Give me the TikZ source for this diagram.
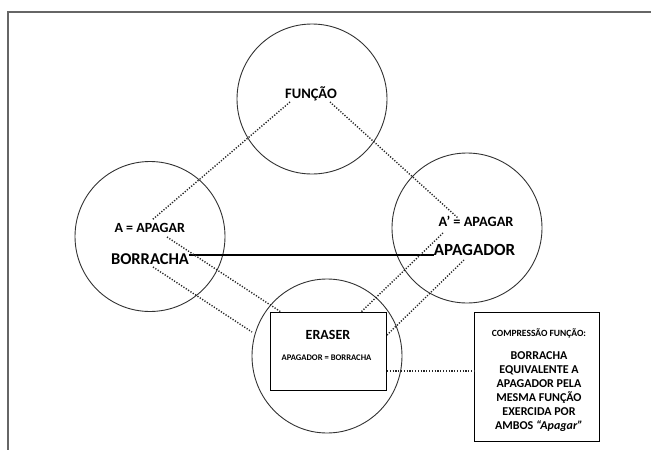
\documentclass[tikz,border=0pt]{standalone}
\usepackage{fontspec}
\setmainfont{Carlito}
\usetikzlibrary{shapes.geometric}
\begin{document}
\begin{tikzpicture}[x=1pt,y=-1pt,
  ring/.style={draw=black!80, line width=0.9pt, ellipse, inner sep=0pt, minimum width=150pt, minimum height=150pt},
  lbl/.style={font=\bfseries, text=black, inner sep=0pt, anchor=base},
  dots/.style={draw=black!85, line width=1.4pt, dash pattern=on 1.2pt off 1.6pt},
  boxx/.style={draw=black, line width=1pt, inner sep=0pt},
  link/.style={draw=black, line width=2pt}]
\useasboundingbox (0,0) rectangle (651,450);
% frame
\draw[draw=black!60, line width=1.5pt] (8,450) -- (8,12) -- (651,12);
% circles
\node[ring] (cF) at (312,99) {};
\node[ring] (cB) at (150,236.5) {};
\node[ring] (cA) at (467,228) {};
\node[ring, minimum height=154pt] (cE) at (327,356) {};
% boxes
\node[boxx, minimum width=116pt, minimum height=77.7pt] (bE) at (328.7,351.2) {};
\node[boxx, minimum width=125.3pt, minimum height=129.4pt] (bC) at (536.7,377) {};
% labels
\node[lbl, font=\bfseries\fontsize{14.5}{17}\selectfont] (tF) at (311,98.5) {FUNÇÃO};
\node[lbl, font=\bfseries\fontsize{14}{17}\selectfont] (tA1) at (149.7,232.7) {A = APAGAR};
\node[lbl, font=\bfseries\fontsize{16.5}{19}\selectfont] (tBor) at (150,264) {BORRACHA};
\node[lbl, font=\bfseries\fontsize{14.3}{17}\selectfont] (tA2) at (476,226.7) {A’ = APAGAR};
\node[lbl, font=\bfseries\fontsize{17}{20}\selectfont] (tApa) at (474.5,255.3) {APAGADOR};
\node[lbl, font=\bfseries\fontsize{14}{17}\selectfont] (tEr) at (328,339.3) {ERASER};
\node[lbl, font=\bfseries\fontsize{8.6}{10}\selectfont] (tEq) at (326.5,360.7) {APAGADOR = BORRACHA};
\node[lbl, font=\bfseries\fontsize{9.5}{11}\selectfont] (tC) at (539,336.7) {COMPRESSÃO FUNÇÃO:};
\node[lbl, anchor=north, align=center, font=\bfseries\fontsize{12}{14}\selectfont] (tBody) at (539,351.3)
  {BORRACHA\\EQUIVALENTE A\\APAGADOR PELA\\MESMA FUNÇÃO\\EXERCIDA POR\\AMBOS \textit{“Apagar”}};
% solid link
\draw[link] (tBor.east |- tApa.base) -- (tApa.base west);
% dotted links
\coordinate (d1a) at (290,102); \coordinate (d1b) at (152,220);
\coordinate (d2a) at (330,102); \coordinate (d2b) at (458,218);
\coordinate (d3a) at (167,237); \coordinate (d3b) at (281,312);
\coordinate (d4a) at (153,267); \coordinate (d4b) at (252,332);
\coordinate (d5a) at (443,233); \coordinate (d5b) at (361,312);
\coordinate (d6a) at (464,260); \coordinate (d6b) at (387,335);
\coordinate (d7a) at (387,371); \coordinate (d7b) at (474,371);
\draw[dots] (d1a) -- (d1b);
\draw[dots] (d2a) -- (d2b);
\draw[dots] (d3a) -- (d3b);
\draw[dots] (d4a) -- (d4b);
\draw[dots] (d5a) -- (d5b);
\draw[dots] (d6a) -- (d6b);
\draw[dots] (d7a) -- (d7b);
\end{tikzpicture}
\end{document}
